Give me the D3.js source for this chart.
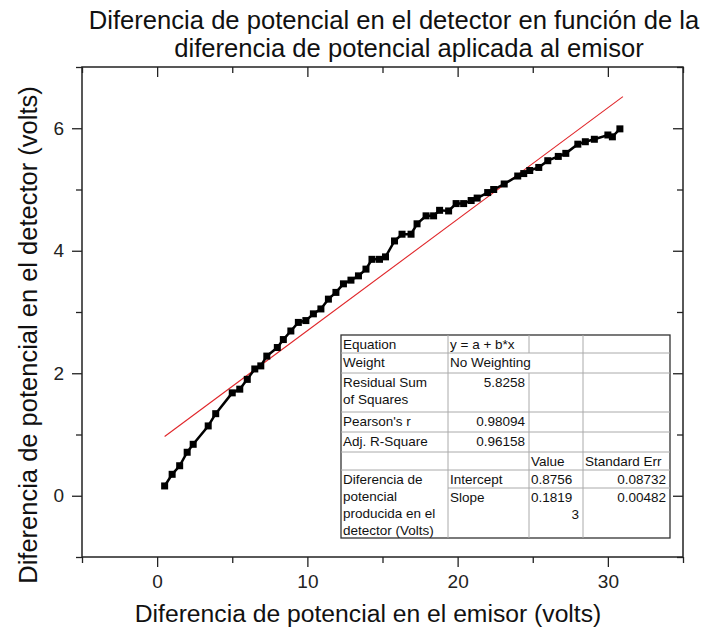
<!DOCTYPE html>
<html>
<head>
<meta charset="utf-8">
<style>
  body { margin: 0; background: #fff; }
  svg { font-family: "Liberation Sans", Arial, sans-serif; }
  .axis path, .axis line { stroke: #222; stroke-width: 1.3px; }
  .axis text { font-size: 19px; fill: #222; }
</style>
</head>
<body>
<script src="https://cdn.jsdelivr.net/npm/d3@7"></script>
<script>
// datos
var emisor = [0.5,1.0,1.5,2.0,2.4,3.4,3.9,5.0,5.5,6.0,6.5,6.9,7.3,8.0,8.4,8.9,9.4,9.9,10.4,10.9,11.4,11.9,12.4,12.9,13.4,13.9,14.3,14.8,15.2,15.8,16.3,16.9,17.3,17.9,18.4,18.8,19.4,19.9,20.4,20.9,21.3,22.0,22.4,23.1,24.0,24.4,24.8,25.4,26.0,26.7,27.2,28.0,28.5,29.1,30.0,30.3,30.8];
var detector = [0.16,0.35,0.49,0.71,0.84,1.14,1.34,1.68,1.74,1.90,2.07,2.12,2.28,2.42,2.55,2.69,2.83,2.86,2.97,3.05,3.21,3.32,3.46,3.52,3.59,3.70,3.86,3.86,3.90,4.16,4.27,4.27,4.44,4.57,4.57,4.66,4.65,4.77,4.77,4.82,4.86,4.95,5.00,5.09,5.22,5.26,5.31,5.36,5.47,5.54,5.59,5.74,5.78,5.82,5.89,5.86,5.99];
var intercepto = 0.8756, pendiente = 0.18193;
var ajusteX = [0.5, 31];
var xMayores = [0, 10, 20, 30], xMenores = [-5, 5, 15, 25, 35];
var yMayores = [0, 2, 4, 6], yMenores = [-1, 1, 3, 5, 7];
var tabla = [
  ["Equation", "y = a + b*x", "", ""],
  ["Weight", "No Weighting", "", ""],
  ["Residual Sum\nof Squares", "5.8258", "", ""],
  ["Pearson's r", "0.98094", "", ""],
  ["Adj. R-Square", "0.96158", "", ""],
  ["", "", "Value", "Standard Err"],
  ["Diferencia de\npotencial\nproducida en el\ndetector (Volts)", "Intercept", "0.8756", "0.08732"],
  ["", "Slope", "0.1819\n3", "0.00482"]
];

var W = 712, H = 638;
var m = {left: 82, right: 683, top: 67, bottom: 557};
var svg = d3.select("body").append("svg").attr("width", W).attr("height", H);

var x = d3.scaleLinear().domain([-5, 35]).range([m.left, m.right]);
var y = d3.scaleLinear().domain([-1, 7]).range([m.bottom, m.top]);

// ejes
function eje(gen, vals, size, tr, labels) {
  var g = svg.append("g").attr("class", "axis").attr("transform", tr)
    .call(gen.tickValues(vals).tickSize(size).tickSizeOuter(0).tickPadding(8));
  if (!labels) g.selectAll("text").remove();
  g.select(".domain").remove();
  return g;
}
eje(d3.axisBottom(x), xMayores, 10, "translate(0," + m.bottom + ")", true);
eje(d3.axisBottom(x), xMenores, 6, "translate(0," + m.bottom + ")", false);
eje(d3.axisLeft(y), yMayores, 10, "translate(" + m.left + ",0)", true);
eje(d3.axisLeft(y), yMenores, 6, "translate(" + m.left + ",0)", false);
eje(d3.axisTop(x), xMayores, -10, "translate(0," + m.top + ")", false);
eje(d3.axisTop(x), xMenores, -6, "translate(0," + m.top + ")", false);
eje(d3.axisRight(y), yMayores, -10, "translate(" + m.right + ",0)", false);
eje(d3.axisRight(y), yMenores, -6, "translate(" + m.right + ",0)", false);

svg.append("rect").attr("x", m.left).attr("y", m.top)
  .attr("width", m.right - m.left).attr("height", m.bottom - m.top)
  .attr("fill", "none").attr("stroke", "#222").attr("stroke-width", 1.5);

// recta de ajuste
svg.append("line")
  .attr("x1", x(ajusteX[0])).attr("y1", y(intercepto + pendiente * ajusteX[0]))
  .attr("x2", x(ajusteX[1])).attr("y2", y(intercepto + pendiente * ajusteX[1]))
  .attr("stroke", "#e0262a").attr("stroke-width", 1.1);

// datos
var puntos = emisor.map((v, i) => [v, detector[i]]);
svg.append("path").datum(puntos)
  .attr("fill", "none").attr("stroke", "#000").attr("stroke-width", 2.5)
  .attr("d", d3.line().x(d => x(d[0])).y(d => y(d[1])));
svg.append("g").selectAll("rect").data(puntos).join("rect")
  .attr("x", d => x(d[0]) - 3.5).attr("y", d => y(d[1]) - 3.5)
  .attr("width", 7).attr("height", 7).attr("fill", "#000");

// tabla
var colX = [341, 448, 529, 583, 670];
var filaY = [335, 353, 373, 412, 432, 452, 470, 488, 538];
var tg = svg.append("g").attr("font-size", 13.5).attr("fill", "#111");
tg.append("rect").attr("x", colX[0]).attr("y", filaY[0])
  .attr("width", colX[4] - colX[0]).attr("height", filaY[8] - filaY[0])
  .attr("fill", "#fff").attr("stroke", "#333").attr("stroke-width", 1.3);
// líneas horizontales
[1, 2, 3, 4, 5, 6].forEach(function(r) {
  tg.append("line").attr("x1", colX[0]).attr("x2", colX[4])
    .attr("y1", filaY[r]).attr("y2", filaY[r]).attr("stroke", "#aaa");
});
tg.append("line").attr("x1", colX[1]).attr("x2", colX[4])
  .attr("y1", filaY[7]).attr("y2", filaY[7]).attr("stroke", "#aaa");
// líneas verticales
tg.append("line").attr("x1", colX[1]).attr("x2", colX[1]).attr("y1", filaY[0]).attr("y2", filaY[8]).attr("stroke", "#aaa");
tg.append("line").attr("x1", colX[2]).attr("x2", colX[2]).attr("y1", filaY[0]).attr("y2", filaY[1]).attr("stroke", "#aaa");
tg.append("line").attr("x1", colX[2]).attr("x2", colX[2]).attr("y1", filaY[2]).attr("y2", filaY[8]).attr("stroke", "#aaa");
tg.append("line").attr("x1", colX[3]).attr("x2", colX[3]).attr("y1", filaY[0]).attr("y2", filaY[8]).attr("stroke", "#aaa");

var filaTop = [335, 353, 373, 412, 432, 452, 470, 488];
var derecha = function(r, c) {
  return (c === 1 && r >= 2 && r <= 4) || (c === 3 && r >= 6);
};
tabla.forEach(function(fila, r) {
  fila.forEach(function(txt, c) {
    if (!txt) return;
    txt.split("\n").forEach(function(l, k) {
      var alinDer = derecha(r, c) || (r === 7 && c === 2 && k === 1);
      tg.append("text")
        .attr("x", alinDer ? colX[c + 1] - 4 : colX[c] + 2)
        .attr("y", filaTop[r] + 14 + k * 17)
        .attr("text-anchor", alinDer ? "end" : "start")
        .text(l);
    });
  });
});

// títulos
var t = svg.append("g").attr("fill", "#111").attr("text-anchor", "middle");
t.append("text").attr("x", 394).attr("y", 29).attr("font-size", 25.6).text("Diferencia de potencial en el detector en función de la");
t.append("text").attr("x", 409).attr("y", 57).attr("font-size", 25.6).text("diferencia de potencial aplicada al emisor");
t.append("text").attr("x", 368).attr("y", 622).attr("font-size", 24.7).text("Diferencia de potencial en el emisor (volts)");
t.append("text").attr("transform", "translate(37,335) rotate(-90)").attr("font-size", 25.5).text("Diferencia de potencial en el detector (volts)");
</script>
</body>
</html>
